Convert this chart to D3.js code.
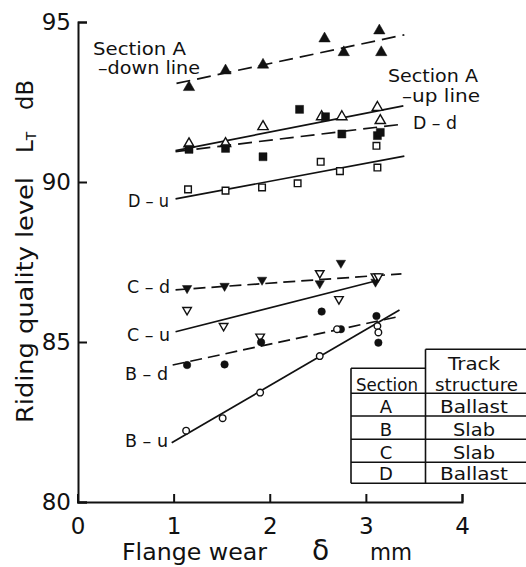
<!DOCTYPE html>
<html>
<head>
<meta charset="utf-8">
<script src="https://cdn.jsdelivr.net/npm/d3@7"></script>
<style>
  body { margin: 0; background: #fff; }
  text { font-family: 'DejaVu Sans', sans-serif; fill: #111; }
</style>
</head>
<body>
<div id="chart"></div>
<script>
// tick values
const xTicks = [0, 1, 2, 3, 4];
const yTicks = [80, 85, 90, 95];

// measured points, flange wear (mm) vs riding quality level (dB)
const aDownX = [1.16, 1.54, 1.93, 2.57, 2.77, 3.14, 3.16];
const aDownY = [92.96, 93.48, 93.66, 94.48, 94.05, 94.73, 94.05];
const aUpX = [1.16, 1.54, 1.93, 2.54, 2.75, 3.12, 3.15];
const aUpY = [91.19, 91.2, 91.73, 92.04, 92.04, 92.33, 91.92];
const dDownX = [1.16, 1.54, 1.93, 2.31, 2.58, 2.75, 3.12, 3.15];
const dDownY = [91.02, 91.05, 90.79, 92.27, 92.04, 91.5, 91.45, 91.55];
const dUpX = [1.15, 1.54, 1.92, 2.29, 2.53, 2.73, 3.11, 3.12];
const dUpY = [89.77, 89.73, 89.83, 89.96, 90.63, 90.34, 91.13, 90.45];
const cDownX = [1.14, 1.53, 1.92, 2.52, 2.74, 3.10];
const cDownY = [86.68, 86.75, 86.94, 86.83, 87.47, 86.88];
const cUpX = [1.14, 1.52, 1.90, 2.52, 2.72, 3.10, 3.13];
const cUpY = [86.0, 85.5, 85.17, 87.15, 86.34, 87.05, 87.05];
const bDownX = [1.14, 1.53, 1.91, 2.54, 2.74, 3.11, 3.13];
const bDownY = [84.28, 84.30, 84.99, 85.95, 85.40, 85.81, 84.98];
const bUpX = [1.13, 1.51, 1.90, 2.52, 2.70, 3.12, 3.13];
const bUpY = [82.23, 82.62, 83.42, 84.56, 85.4, 85.5, 85.3];

// fitted lines (start, end)
const aDownFitX = [1.03, 3.40], aDownFitY = [93.08, 94.6];
const aUpFitX = [1.02, 3.39], aUpFitY = [90.98, 92.38];
const dDownFitX = [1.02, 3.39], dDownFitY = [90.95, 91.81];
const dUpFitX = [1.02, 3.40], dUpFitY = [89.47, 90.81];
const cDownFitX = [1.02, 3.37], cDownFitY = [86.63, 87.13];
const cUpFitX = [1.02, 3.09], cUpFitY = [85.32, 86.9];
const bDownFitX = [0.99, 3.35], bDownFitY = [84.28, 85.8];
const bUpFitX = [0.98, 3.35], bUpFitY = [81.85, 86.0];

// table
const sections = ['A', 'B', 'C', 'D'];
const structures = ['Ballast', 'Slab', 'Slab', 'Ballast'];

const svg = d3.select('#chart').append('svg')
  .attr('width', 526)
  .attr('height', 567);

const xScale = d3.scaleLinear().domain([0, 4]).range([77.5, 462]);
const yScale = d3.scaleLinear().domain([80, 95]).range([502, 22]);

// axes, ticks pointing inward
const xAxis = svg.append('g')
  .attr('transform', 'translate(0,502)')
  .call(d3.axisBottom(xScale).tickValues(xTicks).tickSize(-8).tickPadding(16).tickFormat(d3.format('d')));
const yAxis = svg.append('g')
  .attr('transform', 'translate(78,0)')
  .call(d3.axisLeft(yScale).tickValues(yTicks).tickSize(-9).tickPadding(7).tickFormat(d3.format('d')));

[xAxis, yAxis].forEach(ax => {
  ax.selectAll('path, line').attr('stroke', '#111').attr('stroke-width', 2);
  ax.selectAll('text')
    .attr('font-family', "'DejaVu Sans', sans-serif")
    .attr('font-size', 23)
    .attr('fill', '#111');
});

const line = d3.line().x(d => xScale(d[0])).y(d => yScale(d[1]));

const series = [
  { xs: aDownX, ys: aDownY, fx: aDownFitX, fy: aDownFitY, shape: 'up', filled: true, dash: '14,7' },
  { xs: aUpX, ys: aUpY, fx: aUpFitX, fy: aUpFitY, shape: 'up', filled: false, dash: null },
  { xs: dDownX, ys: dDownY, fx: dDownFitX, fy: dDownFitY, shape: 'sq', filled: true, dash: '14,7' },
  { xs: dUpX, ys: dUpY, fx: dUpFitX, fy: dUpFitY, shape: 'sq', filled: false, dash: null },
  { xs: cDownX, ys: cDownY, fx: cDownFitX, fy: cDownFitY, shape: 'down', filled: true, dash: '12,6' },
  { xs: cUpX, ys: cUpY, fx: cUpFitX, fy: cUpFitY, shape: 'down', filled: false, dash: null },
  { xs: bDownX, ys: bDownY, fx: bDownFitX, fy: bDownFitY, shape: 'circ', filled: true, dash: '12,6' },
  { xs: bUpX, ys: bUpY, fx: bUpFitX, fy: bUpFitY, shape: 'circ', filled: false, dash: null }
];

// fit lines
series.forEach(s => {
  svg.append('path')
    .attr('d', line(d3.zip(s.fx, s.fy)))
    .attr('fill', 'none')
    .attr('stroke', '#111')
    .attr('stroke-width', 1.7)
    .attr('stroke-dasharray', s.dash);
});

const symbolFor = s => {
  if (s.shape === 'sq') return d3.symbol().type(d3.symbolSquare).size(s.filled ? 64 : 44)();
  if (s.shape === 'circ') return d3.symbol().type(d3.symbolCircle).size(s.filled ? 44 : 34)();
  if (s.shape === 'down') return d3.symbol().type(d3.symbolTriangle).size(s.filled ? 38 : 32)();
  return d3.symbol().type(d3.symbolTriangle).size(s.filled ? 56 : 46)();
};

// markers
series.forEach(s => {
  svg.append('g').selectAll('path')
    .data(d3.zip(s.xs, s.ys))
    .join('path')
    .attr('d', symbolFor(s))
    .attr('transform', d => `translate(${xScale(d[0])},${yScale(d[1])})` + (s.shape === 'down' ? ' rotate(180)' : ''))
    .attr('fill', s.filled ? '#111' : '#fff')
    .attr('stroke', '#111')
    .attr('stroke-width', s.filled ? 0.5 : 1.4);
});

function label(txt, x, y, size, len, anchor) {
  const t = svg.append('text')
    .attr('x', x).attr('y', y)
    .attr('font-size', size)
    .attr('text-anchor', anchor || 'start')
    .text(txt);
  if (len) t.attr('textLength', len).attr('lengthAdjust', 'spacingAndGlyphs');
  return t;
}

// series labels
label('Section A', 93, 55, 18, 93);
label('–down line', 98, 74, 18, 102);
label('Section A', 388, 82, 17, 90);
label('–up line', 402, 102, 17, 78);
label('D – d', 413, 129, 18, 44);
label('D – u', 128, 207, 18, 41);
label('C – d', 127, 293, 18, 43);
label('C – u', 127, 341, 18, 43);
label('B – d', 125, 380, 18, 43);
label('B – u', 125, 447, 18, 43);

// axis titles
label('Flange wear', 122, 560, 23, 145);
label('δ', 312, 560, 28);
label('mm', 370, 560, 23, 42);

const yTitle = (txt, y, len) => svg.append('text')
  .attr('transform', `translate(33,${y}) rotate(-90)`)
  .attr('font-size', 23)
  .attr('textLength', len)
  .attr('lengthAdjust', 'spacingAndGlyphs')
  .text(txt);
yTitle('Riding quality level', 423, 246);
const lt = svg.append('text')
  .attr('transform', 'translate(33,153) rotate(-90)')
  .attr('font-size', 23);
lt.append('tspan').text('L');
lt.append('tspan').attr('font-size', 14).attr('dy', 3).text('T');
yTitle('dB', 110, 30);

// section / track structure table
const tbl = svg.append('g').attr('stroke', '#111').attr('stroke-width', 1.6).attr('fill', 'none');
const colL = 351, colM = 425.5, colR = 540;
const rowLines = [393.3, 416, 439.3, 462.3, 483.3];
tbl.append('line').attr('x1', colL).attr('x2', colM).attr('y1', 368.3).attr('y2', 368.3);
tbl.append('line').attr('x1', colM).attr('x2', colR).attr('y1', 349.3).attr('y2', 349.3);
rowLines.forEach(y => tbl.append('line').attr('x1', colL).attr('x2', colR).attr('y1', y).attr('y2', y));
tbl.append('line').attr('x1', colL).attr('x2', colL).attr('y1', 368.3).attr('y2', 483.3);
tbl.append('line').attr('x1', colM).attr('x2', colM).attr('y1', 349.3).attr('y2', 483.3);

label('Track', 474, 370, 18, 52, 'middle');
label('structure', 476.5, 390.7, 18, 83, 'middle');
label('Section', 387, 390.7, 18, 62, 'middle');
sections.forEach((s, i) => {
  const base = rowLines[i + 1] - 3.5;
  label(s, 386, base, 18, null, 'middle');
  label(structures[i], 474, base, 18, structures[i] === 'Slab' ? 42 : 68, 'middle');
});
</script>
</body>
</html>
